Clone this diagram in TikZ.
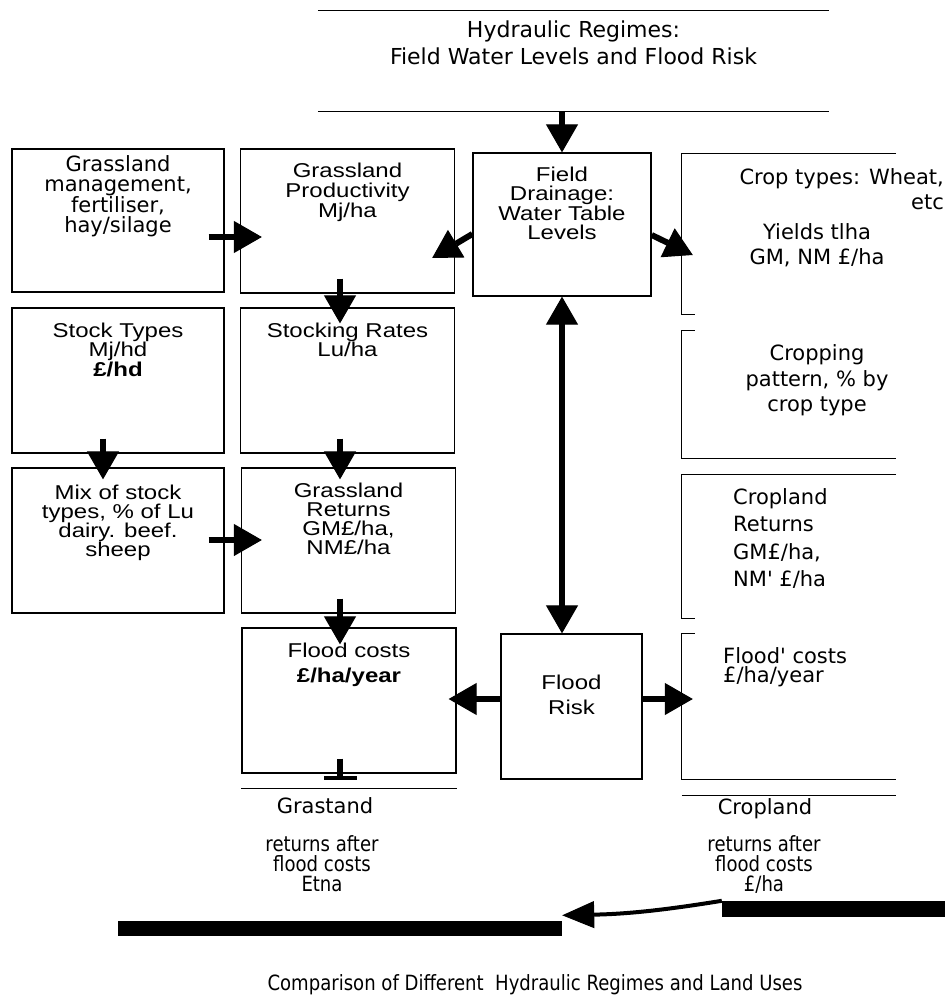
\documentclass[tikz,border=0pt]{standalone}
\usepackage{fontspec}
\setmainfont{DejaVu Sans}
\newfontfamily\scanfont[FakeStretch=1.2]{Liberation Sans}
\newfontfamily\narrowfont[FakeStretch=0.86]{DejaVu Sans}
\usetikzlibrary{arrows.meta,positioning,calc}
\tikzset{>={Triangle[width=32pt,length=28pt,line width=1pt]},
  box/.style={draw,line width=1.3pt,minimum width=214pt,minimum height=145pt,inner sep=0pt},
  open/.style={minimum width=214pt,inner sep=0pt},
  vtxt/.style={font=\fontsize{21}{20}\selectfont,align=center,inner sep=0pt},
  wtxt/.style={font=\fontsize{21}{25.5}\selectfont,align=center,inner sep=0pt},
  stxt/.style={font=\scanfont\fontsize{20}{19}\selectfont,align=center,inner sep=0pt},
  ntxt/.style={font=\narrowfont\fontsize{21}{20}\selectfont,align=center,inner sep=0pt},
  arr/.style={->,line width=6pt},
  arrb/.style={-{Triangle[width=27pt,length=32pt,line width=1pt]},line width=4pt},
  bar/.style={fill,inner sep=0pt},
  rule/.style={line width=1.3pt}
}
\begin{document}
\begin{tikzpicture}[x=1pt,y=-1pt]
  \useasboundingbox (0,0) rectangle (945,1000);
  % header
  \node[minimum width=511pt,minimum height=100pt,inner sep=0pt] (hyd) at (573.5,61) {};
  \draw[rule] (hyd.north west) -- (hyd.north east);
  \draw[rule] (hyd.south west) -- (hyd.south east);
  \node[wtxt,font=\fontsize{22}{27}\selectfont,below=10pt of hyd.north] (hydt) {Hydraulic Regimes:\\Field Water Levels and Flood Risk};

  % grassland column
  \node[box,minimum width=212pt,minimum height=143pt] (mgmt) at (118,220.5) {};
  \node[vtxt,below=7pt of mgmt.north] (mgmtt) {Grassland\\management,\\fertiliser,\\hay/silage};
  \node[box,minimum height=144pt] (prod) at (347.5,221) {};
  \node[stxt,font=\scanfont\fontsize{20}{20}\selectfont,below=14pt of prod.north] (prodt) {Grassland\\Productivity\\Mj/ha};
  \node[box,minimum width=212pt] (stock) at (118,380.5) {};
  \node[stxt,font=\scanfont\fontsize{20}{18}\selectfont,below=15pt of stock.north] (stockt) {Stock Types\\Mj/hd\\\textbf{£/hd}};
  \node[box] (rate) at (347.5,380.5) {};
  \node[stxt,font=\scanfont\fontsize{20}{18}\selectfont,below=15pt of rate.north] (ratet) {Stocking Rates\\Lu/ha};
  \node[box,minimum width=212pt] (mix) at (118,540.5) {};
  \node[stxt,below=17pt of mix.north] (mixt) {Mix of stock\\types, \% of Lu\\dairy. beef.\\sheep};
  \node[box] (gret) at (348.5,540.5) {};
  \node[stxt,below=15pt of gret.north] (grett) {Grassland\\Returns\\GM£/ha,\\NM£/ha};
  \node[box] (fcost) at (349,700.5) {};
  \node[stxt,font=\scanfont\fontsize{20}{25}\selectfont,below=15pt of fcost.north] (fcostt) {Flood costs\\\textbf{£/ha/year}};
  \draw[rule] ($(fcost.south west)+(0,15)$) -- ($(fcost.south east)+(0,15)$);
  \draw[line width=6pt] ($(fcost.south)+(-9,-15)$) -- ++(0,18);
  \draw[line width=4pt] ($(fcost.south)+(-25,4)$) -- ++(33,0);
  \node[vtxt,anchor=north] (glandt) at (325,797) {Grastand};
  \node[ntxt,anchor=north] (gaftert) at (322,835) {returns after\\flood costs\\Etna};

  % hydrology
  \node[box,minimum width=178pt,minimum height=143pt] (field) at (562,224.5) {};
  \node[stxt,font=\scanfont\fontsize{20}{19.5}\selectfont,below=14pt of field.north] (fieldt) {Field\\Drainage:\\Water Table\\Levels};
  \node[box,minimum width=141pt] (risk) at (571.5,706.5) {};
  \node[stxt,font=\scanfont\fontsize{20}{25}\selectfont,below=41pt of risk.north] (riskt) {Flood\\Risk};

  % cropland column
  \node[open,minimum height=160pt] (crop) at (789,234) {};
  \draw[rule] (crop.north east) -- (crop.north west) -- (crop.south west) -- ++(13,0);
  \node[wtxt,align=right,anchor=north east] (cropt) at (944,168) {Crop types: Wheat,\\etc};
  \node[wtxt,anchor=north] (yldt) at (817,223) {Yields tlha\\GM, NM £/ha};
  \node[open,minimum height=127pt] (cpat) at (789,394.5) {};
  \draw[rule] ($(cpat.north west)+(13,0)$) -- (cpat.north west) -- (cpat.south west) -- (cpat.south east);
  \node[wtxt,below=14pt of cpat.north,xshift=28pt] (cpatt) {Cropping\\pattern, \% by\\crop type};
  \node[open,minimum height=143pt] (cret) at (789,546.5) {};
  \draw[rule] (cret.north east) -- (cret.north west) -- (cret.south west) -- ++(13,0);
  \node[wtxt,font=\fontsize{21}{27.5}\selectfont,align=left,anchor=north west] (crett) at (733,488) {Cropland\\Returns\\GM£/ha,\\NM\textquotesingle\ £/ha};
  \node[open,minimum height=145pt] (rcost) at (789,706.5) {};
  \draw[rule] ($(rcost.north west)+(13,0)$) -- (rcost.north west) -- (rcost.south west) -- (rcost.south east);
  \node[vtxt,font=\fontsize{21}{19.5}\selectfont,align=left,anchor=north west] (rcostt) at (723,647) {Flood\textquotesingle\ costs\\£/ha/year};
  \draw[rule] ($(rcost.south west)+(0,16)$) -- ($(rcost.south east)+(0,16)$);
  \node[vtxt,anchor=north] (clandt) at (765,798) {Cropland};
  \node[ntxt,anchor=north] (caftert) at (764,835) {returns after\\flood costs\\£/ha};

  % arrows
  \draw[arr] (field.north |- hyd.south) -- (field.north);
  \draw[arr] ($(mgmt.east)+(-16,16.5)$) -- ($(prod.west)+(22,16)$);
  \draw[arr] ($(field.west)+(0,9.5)$) -- ($(prod.east)+(-23,37)$);
  \draw[arr] ($(field.east)+(0,10.5)$) -- ($(crop.west)+(11,21)$);
  \draw[arr] ($(prod.south)+(-7.5,-15)$) -- ($(rate.north)+(-7.5,16)$);
  \draw[arr] ($(stock.south)+(-15,-15)$) -- ($(mix.north)+(-15,12)$);
  \draw[arr] ($(rate.south)+(-7.5,-15)$) -- ($(gret.north)+(-8.5,12)$);
  \draw[arr] ($(mix.east)+(-16,-0.5)$) -- ($(gret.west)+(21,-0.5)$);
  \draw[arr] ($(gret.south)+(-8.5,-15)$) -- ($(fcost.north)+(-9,17)$);
  \draw[arr,<->] (field.south) -- (field.south |- risk.north);
  \draw[arr] ($(risk.west)+(0,-7.5)$) -- ($(fcost.east)+(-8,-1.5)$);
  \draw[arr] ($(risk.east)+(0,-7.5)$) -- ($(rcost.west)+(11,-7.5)$);

  % comparison
  \node[bar,minimum width=444pt,minimum height=15pt] (lbar) at (340,928) {};
  \node[bar,minimum width=223pt,minimum height=16pt] (rbar) at (833.5,909) {};
  \draw[arrb] (rbar.north west) to[bend left=4] ($(lbar.north east)+(0,-5)$);
  \node[ntxt,anchor=north] (cmpt) at (535,974) {Comparison of Different~ Hydraulic Regimes and Land Uses};
\end{tikzpicture}
\end{document}
